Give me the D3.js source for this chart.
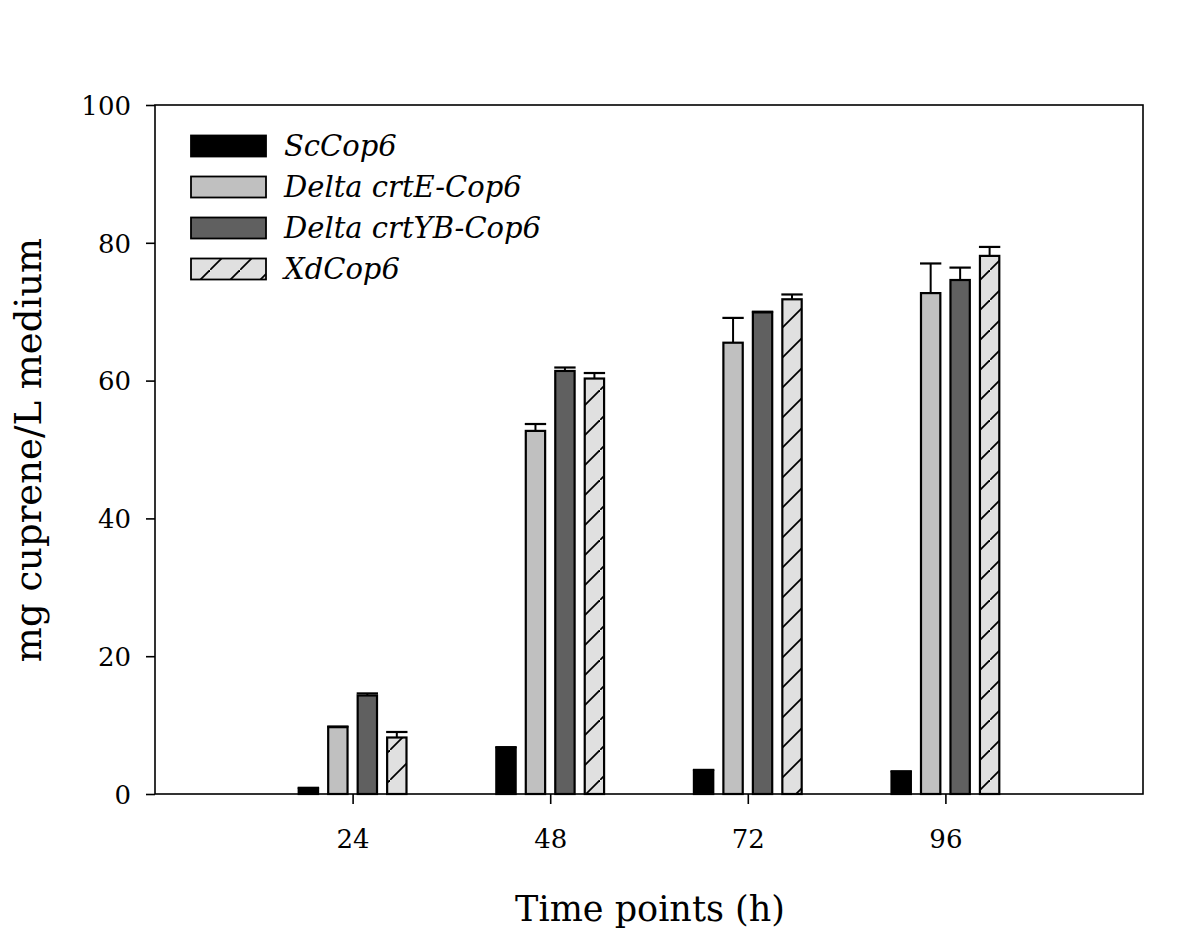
<!DOCTYPE html>
<html><head><meta charset="utf-8">
<script src="https://cdn.jsdelivr.net/npm/d3@7"></script>
<style>body{margin:0;background:#fff}svg{display:block}</style>
</head><body>
<svg id="c" width="1200" height="935"></svg>
<script>
const timePoints = [24, 48, 72, 96];
const seriesNames = ["ScCop6", "Delta crtE-Cop6", "Delta crtYB-Cop6", "XdCop6"];
const scCop6     = [0.8, 6.7, 3.4, 3.2];
const crtECop6   = [9.7, 52.7, 65.5, 72.7];
const crtYBCop6  = [14.3, 61.4, 69.9, 74.6];
const xdCop6     = [8.2, 60.3, 71.8, 78.1];
const scCop6Err  = [0.1, 0.1, 0.1, 0.1];
const crtECop6Err  = [0.1, 1.0, 3.6, 4.3];
const crtYBCop6Err = [0.3, 0.5, 0.1, 1.8];
const xdCop6Err    = [0.8, 0.8, 0.7, 1.3];
const yTicks = [0, 20, 40, 60, 80, 100];

const values = [scCop6, crtECop6, crtYBCop6, xdCop6];
const errors = [scCop6Err, crtECop6Err, crtYBCop6Err, xdCop6Err];
const fills = ["#000000", "#c0c0c0", "#606060", "url(#hatch)"];

const svg = d3.select("#c");
const L = 155, R = 1143, T = 105, B = 794;
const x = d3.scaleLinear().domain([0, 120]).range([L, R]);
const y = d3.scaleLinear().domain([0, 100]).range([B, T]);
const font = "'DejaVu Serif', 'Liberation Serif', serif";

const defs = svg.append("defs");
const pat = defs.append("pattern").attr("id", "hatch").attr("patternUnits", "userSpaceOnUse")
  .attr("width", 30).attr("height", 30);
pat.append("rect").attr("width", 30).attr("height", 30).attr("fill", "#e0e0e0");
pat.append("line").attr("x1", -2).attr("y1", 32).attr("x2", 32).attr("y2", -2)
  .attr("stroke", "#000").attr("stroke-width", 1.8);

const step = x(3.58) - x(0);
const bw = x(2.35) - x(0);

// bars
values.forEach((vals, si) => {
  const g = svg.append("g");
  vals.forEach((v, i) => {
    const cx = x(timePoints[i]) + (si - 1.5) * step;
    const e = errors[si][i];
    g.append("line").attr("x1", cx).attr("x2", cx).attr("y1", y(v)).attr("y2", y(v + e))
      .attr("stroke", "#000").attr("stroke-width", 2);
    g.append("line").attr("x1", cx - bw / 2 - 1).attr("x2", cx + bw / 2 + 1)
      .attr("y1", y(v + e)).attr("y2", y(v + e)).attr("stroke", "#000").attr("stroke-width", 2.2);
    g.append("rect").attr("x", cx - bw / 2).attr("y", y(v)).attr("width", bw)
      .attr("height", y(0) - y(v)).attr("fill", fills[si]).attr("stroke", "#000").attr("stroke-width", 2.2);
  });
});

// frame
svg.append("rect").attr("x", L).attr("y", T).attr("width", R - L).attr("height", B - T)
  .attr("fill", "none").attr("stroke", "#000").attr("stroke-width", 1.6);

// axes
const yAxis = svg.append("g").attr("transform", `translate(${L},0)`)
  .call(d3.axisLeft(y).tickValues(yTicks).tickSize(9).tickPadding(15));
const xAxis = svg.append("g").attr("transform", `translate(0,${B})`)
  .call(d3.axisBottom(x).tickValues(timePoints).tickSize(10).tickPadding(26));
[yAxis, xAxis].forEach(a => {
  a.select(".domain").remove();
  a.selectAll("line").attr("stroke", "#000").attr("stroke-width", 1.6);
  a.selectAll("text").attr("font-family", font).attr("font-size", 26).attr("fill", "#000");
});
yAxis.selectAll("text").attr("dy", "0.36em");

// axis titles
svg.append("text").attr("transform", `translate(41,${450}) rotate(-90)`)
  .attr("text-anchor", "middle").attr("font-family", font).attr("font-size", 37)
  .text("mg cuprene/L medium");
svg.append("text").attr("x", 650).attr("y", 921).attr("text-anchor", "middle")
  .attr("font-family", font).attr("font-size", 35).text("Time points (h)");

// legend
const leg = svg.append("g");
seriesNames.forEach((n, i) => {
  const yy = 146 + i * 41;
  leg.append("rect").attr("x", 191).attr("y", yy - 10.5).attr("width", 75).attr("height", 21)
    .attr("fill", fills[i]).attr("stroke", "#000").attr("stroke-width", 1.8);
  leg.append("text").attr("x", 284).attr("y", yy).attr("dy", "0.36em")
    .attr("font-family", font).attr("font-style", "italic").attr("font-size", 29).text(n);
});
</script>
</body></html>
